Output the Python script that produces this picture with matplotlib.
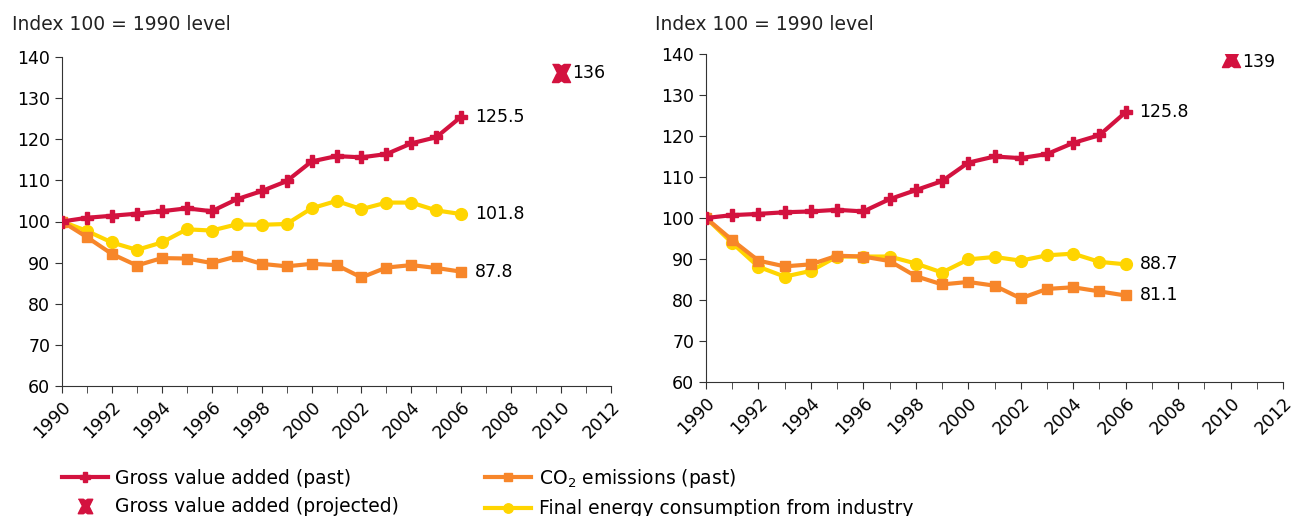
import matplotlib.pyplot as plt
from matplotlib.ticker import MultipleLocator

years = list(range(1990, 2007))

# left panel
gva_l = [100, 100.9, 101.4, 101.9, 102.5, 103.2, 102.5, 105.4, 107.4, 109.8,
         114.6, 115.9, 115.6, 116.4, 119.0, 120.5, 125.5]
co2_l = [100, 96.2, 92.1, 89.3, 91.1, 91.0, 89.9, 91.5, 89.7, 89.1,
         89.7, 89.4, 86.4, 88.8, 89.4, 88.7, 87.8]
energy_l = [100, 97.7, 94.9, 93.1, 94.9, 98.1, 97.8, 99.3, 99.2, 99.4,
            103.2, 105.0, 103.0, 104.6, 104.6, 102.7, 101.8]
proj_l = 136

# right panel
gva_r = [100, 100.7, 101.0, 101.4, 101.6, 102.0, 101.6, 104.6, 106.8, 109.0,
         113.5, 115.0, 114.6, 115.6, 118.3, 120.2, 125.8]
co2_r = [100, 94.6, 89.6, 88.2, 88.7, 90.8, 90.6, 89.5, 85.8, 83.8,
         84.4, 83.5, 80.4, 82.7, 83.1, 82.1, 81.1]
energy_r = [100, 93.9, 88.1, 85.7, 87.1, 90.6, 90.6, 90.6, 88.9, 86.7,
            89.9, 90.5, 89.6, 90.9, 91.3, 89.3, 88.7]
proj_r = 139

proj_year = 2010
xticks = list(range(1990, 2013, 2))

red = '#D3123F'
orange = '#F7862A'
yellow = '#FFD500'
hourglass = [(-1, 1), (-0.3, 1), (0, 0.8), (0.3, 1), (1, 1), (0.5, 0),
             (1, -1), (0.3, -1), (0, -0.8), (-0.3, -1), (-1, -1), (-0.5, 0)]

plt.rcParams['font.family'] = 'DejaVu Sans'
fig = plt.figure(figsize=(12.92, 5.16), dpi=100)
ax1 = fig.add_axes([62 / 1292, 1 - 386 / 516, 549 / 1292, 329 / 516])
ax2 = fig.add_axes([706 / 1292, 1 - 382 / 516, 577 / 1292, 328 / 516])


def draw(ax, gva, co2, energy, proj, proj_dy):
    h1, = ax.plot(years, gva, color=red, lw=3, marker='P', ms=9,
                  label='Gross value added (past)', zorder=4)
    h3, = ax.plot(years, co2, color=orange, lw=3, marker='s', ms=6.5,
                  label='CO$_2$ emissions (past)', zorder=3)
    h4, = ax.plot(years, energy, color=yellow, lw=3, marker='o', ms=8.5,
                  label='Final energy consumption from industry', zorder=2)
    h2, = ax.plot([proj_year], [proj], ls='none', color=red, marker=hourglass,
                  ms=13, label='Gross value added (projected)', zorder=5)
    ax.set_xlim(1990, 2012)
    ax.set_ylim(60, 140)
    ax.set_xticks(xticks)
    ax.xaxis.set_minor_locator(MultipleLocator(1))
    ax.set_yticks(range(60, 141, 10))
    ax.tick_params(axis='x', which='both', direction='out', length=5,
                   color='#333333', labelsize=12.5)
    ax.tick_params(axis='y', direction='out', length=5, color='#333333',
                   labelsize=12.5)
    for lab in ax.get_xticklabels():
        lab.set_rotation(45)
        lab.set_ha('right')
        lab.set_rotation_mode('anchor')
    for s in ['top', 'right']:
        ax.spines[s].set_visible(False)
    for s in ['left', 'bottom']:
        ax.spines[s].set_color('#333333')
    ax.annotate(f'{gva[-1]}', (years[-1], gva[-1]), xytext=(10, 0),
                textcoords='offset points', va='center', fontsize=12.5)
    ax.annotate(f'{co2[-1]}', (years[-1], co2[-1]), xytext=(10, 0),
                textcoords='offset points', va='center', fontsize=12.5)
    ax.annotate(f'{energy[-1]}', (years[-1], energy[-1]), xytext=(10, 0),
                textcoords='offset points', va='center', fontsize=12.5)
    ax.annotate(f'{proj}', (proj_year, proj), xytext=(8, proj_dy),
                textcoords='offset points', va='center', fontsize=12.5)
    return [h1, h2, h3, h4]


handles = draw(ax1, gva_l, co2_l, energy_l, proj_l, 0)
draw(ax2, gva_r, co2_r, energy_r, proj_r, -3)

fig.text(12 / 1292, 1 - 24 / 516, 'Index 100 = 1990 level', fontsize=13.5,
         va='center', color='#222222')
fig.text(655 / 1292, 1 - 24 / 516, 'Index 100 = 1990 level', fontsize=13.5,
         va='center', color='#222222')

fig.legend(handles=handles, ncol=2, frameon=False, fontsize=13.5,
           loc='upper left', bbox_to_anchor=(45 / 1292, 1 - 450 / 516),
           handlelength=2.45, handletextpad=0.4, columnspacing=4.6,
           labelspacing=0.5, markerscale=0.8)

plt.savefig('out.png')
